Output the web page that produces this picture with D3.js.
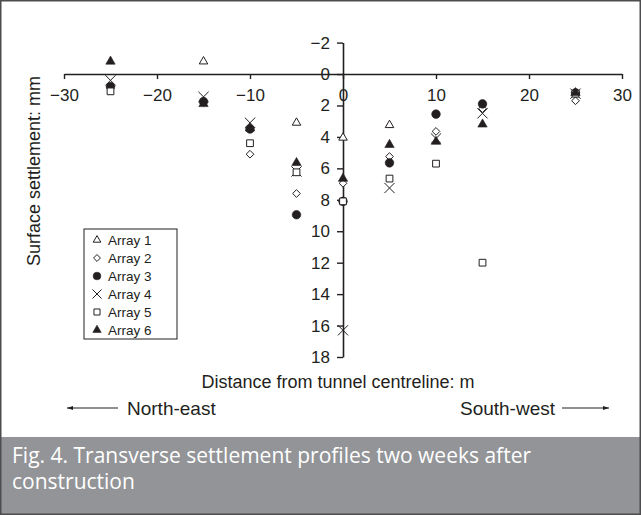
<!DOCTYPE html>
<html>
<head>
<meta charset="utf-8">
<script src="https://cdn.jsdelivr.net/npm/d3@7"></script>
<style>
  html, body { margin: 0; padding: 0; background: #fff; }
  svg { display: block; }
</style>
</head>
<body>
<svg id="chart" width="641" height="515"></svg>
<script>
// Transverse settlement readings (mm) at each offset from the tunnel centreline (m)
const array1X = [-15, -5, 0, 5];
const array1Y = [-0.8, 3.1, 4.05, 3.25];
const array2X = [-25, -15, -10, -5, 0, 5, 10, 15, 25];
const array2Y = [0.8, 1.8, 5.1, 7.6, 6.95, 5.25, 3.65, 2.2, 1.7];
const array3X = [-25, -15, -10, -5, 0, 5, 10, 15, 25];
const array3Y = [0.8, 1.75, 3.5, 8.95, 8.1, 5.65, 2.55, 1.9, 1.2];
const array4X = [-25, -15, -10, -5, 0, 5, 10, 15, 25];
const array4Y = [0.4, 1.45, 3.1, 6.2, 16.3, 7.25, 4.1, 2.5, 1.25];
const array5X = [-25, -10, -5, 0, 5, 10, 15, 25];
const array5Y = [1.1, 4.4, 6.25, 8.1, 6.65, 5.7, 12.0, 1.25];
const array6X = [-25, -15, -10, -5, 0, 5, 10, 15, 25];
const array6Y = [-0.8, 1.9, 3.45, 5.65, 6.65, 4.5, 4.3, 3.2, 1.2];

const seriesNames = ["Array 1", "Array 2", "Array 3", "Array 4", "Array 5", "Array 6"];
const xTicks = [-30, -20, -10, 0, 10, 20, 30];
const yTicks = [-2, 0, 2, 4, 6, 8, 10, 12, 14, 16, 18];

const series = [
  { name: seriesNames[0], xs: array1X, ys: array1Y, type: d3.symbolTriangle2, size: 52, filled: false },
  { name: seriesNames[1], xs: array2X, ys: array2Y, type: d3.symbolDiamond2, size: 38, filled: false },
  { name: seriesNames[2], xs: array3X, ys: array3Y, type: d3.symbolCircle, size: 58, filled: true },
  { name: seriesNames[3], xs: array4X, ys: array4Y, type: d3.symbolTimes, size: 70, filled: false, stroke: true },
  { name: seriesNames[4], xs: array5X, ys: array5Y, type: d3.symbolSquare2, size: 58, filled: false },
  { name: seriesNames[5], xs: array6X, ys: array6Y, type: d3.symbolTriangle, size: 38, filled: true }
];

const svg = d3.select("#chart");
const W = 641, H = 515;
const ink = "#231f20";
const font = "'Liberation Sans', Arial, Helvetica, sans-serif";

svg.append("rect").attr("x", 0).attr("y", 0).attr("width", W).attr("height", H).attr("fill", "#fff");

const x = d3.scaleLinear().domain([-30, 30]).range([64, 622]);
const y = d3.scaleLinear().domain([-2, 18]).range([42.6, 357]);

// x axis crosses at zero settlement
const xAxis = svg.append("g")
  .attr("transform", `translate(0,${y(0)})`)
  .call(d3.axisBottom(x).tickValues(xTicks).tickSize(5).tickSizeOuter(0).tickPadding(9.6));
// y axis crosses at the centreline
const yAxis = svg.append("g")
  .attr("transform", `translate(${x(0)},0)`)
  .call(d3.axisLeft(y).tickValues(yTicks).tickSize(6).tickSizeOuter(0).tickPadding(7));

[xAxis, yAxis].forEach(g => {
  g.select(".domain").attr("stroke", ink).attr("stroke-width", 1.6);
  g.selectAll(".tick line").attr("stroke", ink).attr("stroke-width", 1.4);
  g.selectAll(".tick text").attr("fill", ink).style("font-family", font).style("font-size", "17px");
});

// points, drawn series by series
series.forEach(s => {
  const sym = d3.symbol().type(s.type).size(s.size);
  svg.append("g").selectAll("path")
    .data(s.xs.map((v, i) => [v, s.ys[i]]))
    .join("path")
    .attr("transform", d => `translate(${x(d[0])},${y(d[1])})`)
    .attr("d", sym)
    .attr("fill", s.filled ? ink : (s.stroke ? "none" : "#fff"))
    .attr("stroke", ink)
    .attr("stroke-width", s.filled ? 0.6 : 1);
});

// legend
const lg = svg.append("g");
lg.append("rect").attr("x", 84).attr("y", 229).attr("width", 93).attr("height", 110)
  .attr("fill", "#fff").attr("stroke", ink).attr("stroke-width", 1);
series.forEach((s, i) => {
  const cy = 240 + i * 18;
  lg.append("path")
    .attr("transform", `translate(97,${cy})`)
    .attr("d", d3.symbol().type(s.type).size(s.size * 0.8))
    .attr("fill", s.filled ? ink : (s.stroke ? "none" : "#fff"))
    .attr("stroke", ink)
    .attr("stroke-width", s.filled ? 0.6 : 1);
  lg.append("text").attr("x", 108).attr("y", cy).attr("dy", "0.35em")
    .attr("fill", ink).style("font-family", font).style("font-size", "13.5px")
    .text(s.name);
});

// axis titles
svg.append("text")
  .attr("x", 338).attr("y", 388)
  .attr("text-anchor", "middle")
  .attr("fill", ink).style("font-family", font).style("font-size", "18px")
  .text("Distance from tunnel centreline: m");

svg.append("text")
  .attr("transform", "translate(40,171) rotate(-90)")
  .attr("text-anchor", "middle")
  .attr("fill", ink).style("font-family", font).style("font-size", "18px")
  .text("Surface settlement: mm");

// direction indicators
svg.append("defs").append("marker")
  .attr("id", "head").attr("viewBox", "0 0 10 10").attr("refX", 10).attr("refY", 5)
  .attr("markerWidth", 6).attr("markerHeight", 6).attr("markerUnits", "userSpaceOnUse")
  .attr("orient", "auto")
  .append("path").attr("d", "M0,1.5L10,5L0,8.5Z").attr("fill", ink);

svg.append("line").attr("x1", 118).attr("x2", 67).attr("y1", 408).attr("y2", 408)
  .attr("stroke", ink).attr("stroke-width", 1.2).attr("marker-end", "url(#head)");
svg.append("text").attr("x", 127).attr("y", 414.5)
  .attr("fill", ink).style("font-family", font).style("font-size", "19px").text("North-east");

svg.append("line").attr("x1", 562).attr("x2", 609).attr("y1", 408).attr("y2", 408)
  .attr("stroke", ink).attr("stroke-width", 1.2).attr("marker-end", "url(#head)");
svg.append("text").attr("x", 555).attr("y", 414.5).attr("text-anchor", "end")
  .attr("fill", ink).style("font-family", font).style("font-size", "19px").text("South-west");

// caption band
svg.append("rect").attr("x", 0).attr("y", 437).attr("width", W).attr("height", H - 437).attr("fill", "#929497");
const cap = svg.append("text").attr("fill", "#fff")
  .style("font-family", "'Open Sans', Lato, sans-serif").style("font-size", "21px");
cap.append("tspan").attr("x", 12).attr("y", 463).text("Fig. 4. Transverse settlement profiles two weeks after");
cap.append("tspan").attr("x", 12).attr("y", 489).text("construction");

// outer frame
svg.append("rect").attr("x", 0.75).attr("y", 0.75).attr("width", W - 1.5).attr("height", H - 1.5)
  .attr("fill", "none").attr("stroke", "#4d4d4f").attr("stroke-width", 1.5);
</script>
</body>
</html>
